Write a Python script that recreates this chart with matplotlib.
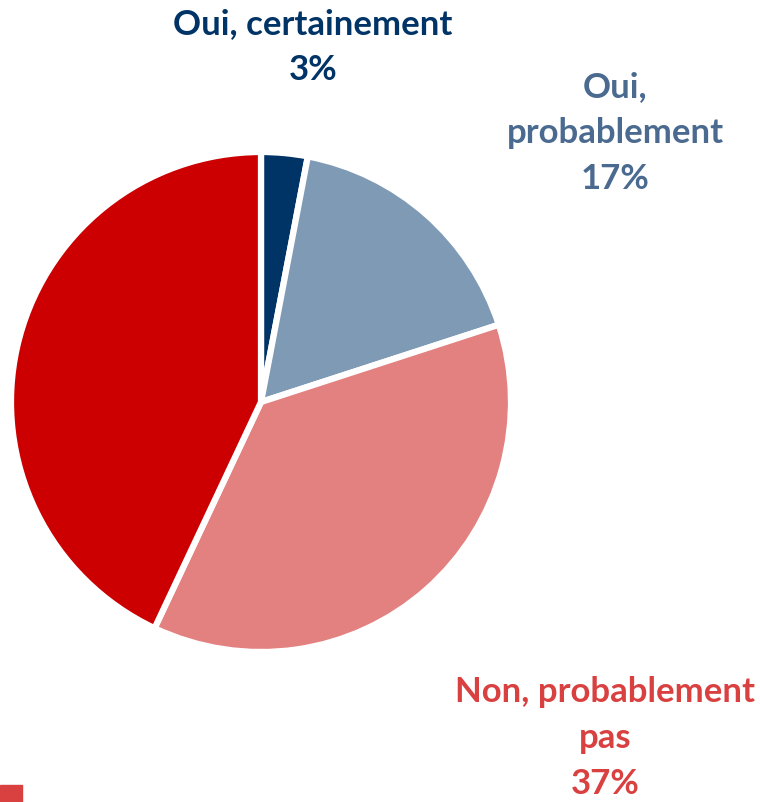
import matplotlib.pyplot as plt

# Données du graphique
labels = ['Oui, certainement', 'Oui,\nprobablement', 'Non, probablement\npas', 'Non, certainement pas']
values = [3, 17, 37, 43]
colors = ['#003366', '#7F9AB5', '#E38080', '#CC0000']
label_colors = ['#003366', '#4A6A8F', '#D94040', None]

plt.rcParams['font.family'] = ['Lato', 'DejaVu Sans']

fig = plt.figure(figsize=(7.6, 8.02), dpi=100)
ax = fig.add_axes([0, 0, 1, 1])
ax.axis('off')

ax.pie(values, colors=colors, startangle=90, counterclock=False,
       center=(261, 400), radius=250, explode=[0.014] * 4,
       wedgeprops=dict(edgecolor='white', linewidth=4.5))
ax.set_xlim(0, 760)
ax.set_ylim(0, 802)
ax.set_aspect('equal')

# positions des étiquettes (px)
label_pos = [(313, 755), (615, 669), (605, 64)]
for i, (x, y) in enumerate(label_pos):
    ax.text(x, y, f"{labels[i]}\n{values[i]}%", ha='center', va='center',
            color=label_colors[i], fontsize=25, fontweight='bold', linespacing=1.52)

# petit carré rouge en bas à gauche
ax.add_patch(plt.Rectangle((0, 0), 22, 17, color='#D94040', clip_on=False))

fig.savefig('out.png', dpi=100)
